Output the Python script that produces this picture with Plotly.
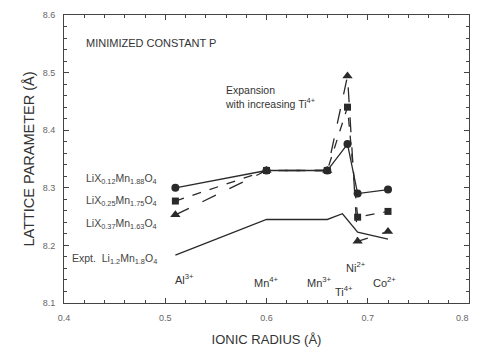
import plotly.graph_objects as go

# Data
x_calc = [0.51, 0.60, 0.66, 0.68, 0.69, 0.72]
y_x012 = [8.300, 8.330, 8.330, 8.376, 8.290, 8.297]
y_x025 = [8.277, 8.330, 8.330, 8.440, 8.249, 8.259]
y_x037 = [8.253, 8.330, 8.330, 8.494, 8.207, 8.224]
x_expt = [0.51, 0.60, 0.66, 0.675, 0.69, 0.72]
y_expt = [8.183, 8.245, 8.245, 8.255, 8.223, 8.211]

ion_labels = ["Al<sup>3+</sup>", "Mn<sup>4+</sup>", "Mn<sup>3+</sup>", "Ti<sup>4+</sup>", "Ni<sup>2+</sup>", "Co<sup>2+</sup>"]
ion_x = [0.519, 0.600, 0.652, 0.677, 0.688, 0.717]
ion_y = [8.141, 8.137, 8.137, 8.121, 8.162, 8.137]

series_labels = ["LiX<sub>0.12</sub>Mn<sub>1.88</sub>O<sub>4</sub>",
                 "LiX<sub>0.25</sub>Mn<sub>1.75</sub>O<sub>4</sub>",
                 "LiX<sub>0.37</sub>Mn<sub>1.63</sub>O<sub>4</sub>",
                 "Expt.  Li<sub>1.2</sub>Mn<sub>1.8</sub>O<sub>4</sub>"]
series_label_y = [8.316, 8.277, 8.238, 8.177]

x_ticks = [0.4, 0.5, 0.6, 0.7, 0.8]
y_ticks = [8.1, 8.2, 8.3, 8.4, 8.5, 8.6]

ink = "#2a2a2a"
fig = go.Figure()
fig.add_trace(go.Scatter(x=x_calc, y=y_x012, mode="lines+markers",
                         line=dict(color=ink, width=1.3),
                         marker=dict(symbol="circle", size=8, color=ink)))
fig.add_trace(go.Scatter(x=x_calc, y=y_x025, mode="lines+markers",
                         line=dict(color=ink, width=1.3, dash="dash"),
                         marker=dict(symbol="square", size=7, color=ink)))
fig.add_trace(go.Scatter(x=x_calc, y=y_x037, mode="lines+markers",
                         line=dict(color=ink, width=1.3, dash="longdash"),
                         marker=dict(symbol="triangle-up", size=9, color=ink, angleref="up")))
fig.add_trace(go.Scatter(x=x_expt, y=y_expt, mode="lines",
                         line=dict(color=ink, width=1.3)))

font = "Liberation Sans, Arial, sans-serif"
tickfont = dict(size=9, color="#666", family=font)
ann = []
for t, x, y in zip(ion_labels, ion_x, ion_y):
    ann.append(dict(x=x, y=y, text=t, showarrow=False, xref="x", yref="y",
                    font=dict(size=11, color="#333", family=font)))
for t, y in zip(series_labels, series_label_y):
    ann.append(dict(x=0.494, y=y, text=t, showarrow=False, xref="x", yref="y",
                    xanchor="right", font=dict(size=10.5, color="#444", family=font)))
ann.append(dict(x=0.420, y=8.551, text="MINIMIZED CONSTANT P", showarrow=False,
                xanchor="left", font=dict(size=11, color="#333", family=font)))
ann.append(dict(x=0.557, y=8.458, text="Expansion<br>with increasing Ti<sup>4+</sup>",
                showarrow=False, xanchor="left", align="left",
                font=dict(size=10.5, color="#333", family=font)))
# last x tick label, anchored so it stays inside the window
ann.append(dict(x=x_ticks[-1], y=0, xref="x", yref="paper", xanchor="right", yanchor="top",
                xshift=2, yshift=-8, text=str(x_ticks[-1]), showarrow=False, font=tickfont))

axis_common = dict(showline=True, linecolor="#444", linewidth=1, mirror="ticks",
                   ticks="inside", ticklen=5, tickcolor="#444", showgrid=False,
                   zeroline=False, tickfont=tickfont, automargin=False,
                   minor=dict(ticks="inside", ticklen=3, tickcolor="#444"))
# the page body adds an 8px offset; size the figure so the plot area lands where the reference has it
fig.update_layout(
    width=471, height=339,
    margin=dict(l=56, r=10, t=7, b=44),
    paper_bgcolor="white", plot_bgcolor="white",
    showlegend=False,
    annotations=ann,
    xaxis=dict(range=[0.4, 0.8], tickvals=x_ticks,
               ticktext=[str(v) for v in x_ticks[:-1]] + [""],
               ticklabelstandoff=6,
               title=dict(text="IONIC RADIUS (Å)", font=dict(size=13, color="#333", family=font),
                          standoff=18),
               **axis_common),
    yaxis=dict(range=[8.1, 8.6], tickvals=y_ticks, ticktext=[str(v) for v in y_ticks],
               ticklabelstandoff=6,
               title=dict(text="LATTICE PARAMETER (Å)", font=dict(size=14.5, color="#333", family=font),
                          standoff=4),
               **axis_common),
)
fig.update_xaxes(minor=dict(dtick=0.02))
fig.update_yaxes(minor=dict(dtick=0.02))
fig.write_html("out.html", post_script="document.body.style.overflow='hidden';")
